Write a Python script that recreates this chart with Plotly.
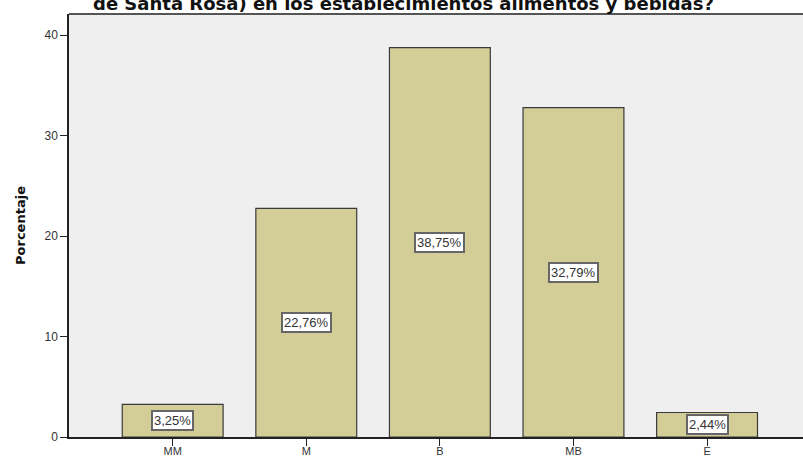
import plotly.graph_objects as go

categories = ["MM", "M", "B", "MB", "E"]
values = [3.25, 22.76, 38.75, 32.79, 2.44]
labels = ["3,25%", "22,76%", "38,75%", "32,79%", "2,44%"]
title_text = "de Santa Rosa) en los establecimientos alimentos y bebidas?"
y_ticks = [0, 10, 20, 30, 40]

W, H = 803, 458
L, R, T, B = 69, 0, 14, 21
pw, ph = W - L - R, H - T - B

fig = go.Figure()
fig.add_trace(go.Bar(
    x=list(range(len(categories))),
    y=values,
    width=0.755,
    marker=dict(color="#d3ce97", line=dict(color="#3a3a3a", width=1.2)),
    hoverinfo="skip",
))

for i, (v, lab) in enumerate(zip(values, labels)):
    fig.add_annotation(
        x=i, y=v / 2, xref="x", yref="y", text=lab, showarrow=False,
        font=dict(family="Liberation Sans, Arial", size=13, color="#333"),
        bgcolor="white", bordercolor="#666", borderwidth=2, borderpad=1,
    )

fig.add_annotation(
    x=(403 - L) / pw, y=1 + (T - 16) / ph, xref="paper", yref="paper",
    text="<b>" + title_text + "</b>",
    showarrow=False, xanchor="center", yanchor="bottom",
    font=dict(family="DejaVu Sans", size=18, color="#111"),
)

fig.add_shape(type="line", xref="paper", yref="paper", x0=0, x1=1, y0=1, y1=1,
              line=dict(color="#555", width=2))

fig.update_layout(
    width=W, height=H,
    margin=dict(l=L, r=R, t=T, b=B, autoexpand=False),
    paper_bgcolor="white", plot_bgcolor="#efefef",
    showlegend=False,
    xaxis=dict(
        range=[-0.776, 4.718], tickmode="array", tickvals=list(range(len(categories))),
        ticktext=categories, ticks="outside", ticklen=7, tickcolor="#222",
        ticklabelstandoff=-4,
        showline=True, linecolor="#222", linewidth=1.5, showgrid=False, zeroline=False,
        tickfont=dict(family="Liberation Sans, Arial", size=11, color="#333"),
        automargin=False,
    ),
    yaxis=dict(
        range=[0, 42.1], tickmode="array", tickvals=y_ticks,
        ticks="outside", ticklen=7, tickcolor="#222", showgrid=False, zeroline=False,
        showline=True, linecolor="#222", linewidth=1.5,
        tickfont=dict(family="Liberation Sans, Arial", size=12, color="#333"),
        automargin=False,
        title=dict(text="<b>Porcentaje</b>", standoff=16,
                   font=dict(family="DejaVu Sans", size=13, color="#111")),
    ),
)

fig.write_html(
    "out.html",
    config={"displayModeBar": False},
    post_script="document.body.style.margin='0';document.body.style.overflow='hidden';",
)
